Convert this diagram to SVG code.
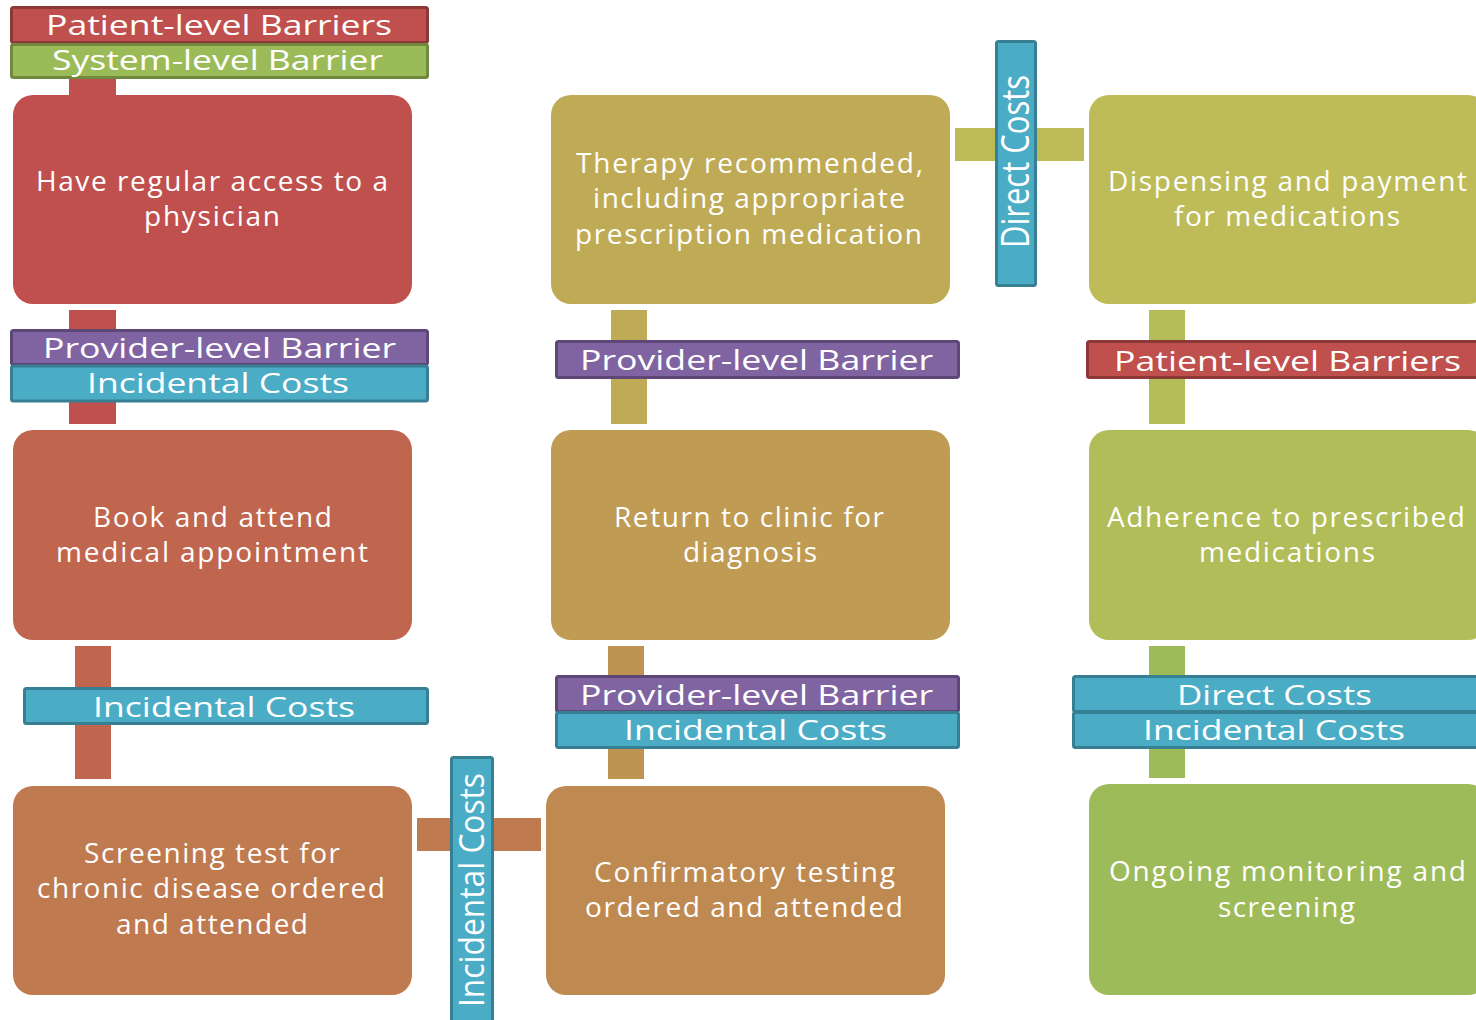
<svg xmlns="http://www.w3.org/2000/svg" width="1476" height="1020" viewBox="0 0 1476 1020">
  <style>
    .node-text { font-family: "Open Sans", "Noto Sans", "Liberation Sans", sans-serif; font-size: 28px; fill: #ffffff; text-anchor: middle; }
    .lbl-text { font-family: "Open Sans", "Noto Sans", "Liberation Sans", sans-serif; font-size: 28px; fill: #ffffff; text-anchor: middle; }
    .patient { fill: #C0504D; stroke: #8C3836; stroke-width: 3; }
    .system { fill: #9BBB59; stroke: #71893F; stroke-width: 3; }
    .provider { fill: #8064A2; stroke: #5C4776; stroke-width: 3; }
    .cost { fill: #4BACC6; stroke: #377F92; stroke-width: 3; }
  </style>

  <rect width="1476" height="1020" fill="#ffffff"/>

  <!-- connecting bars between steps -->
  <g id="connectors">
    <rect x="69" y="60" width="47" height="36" fill="#C0504D"/>
    <rect x="69" y="310" width="47" height="114" fill="#C0504D"/>
    <rect x="75" y="646" width="36" height="133" fill="#C0654E"/>
    <rect x="417" y="818" width="124" height="33" fill="#BF7A50"/>
    <rect x="608" y="646" width="36" height="133" fill="#BF9352"/>
    <rect x="611" y="310" width="36" height="114" fill="#BFAA56"/>
    <rect x="955" y="128" width="129" height="33" fill="#BDBA58"/>
    <rect x="1149" y="310" width="36" height="114" fill="#B5BD58"/>
    <rect x="1149" y="646" width="36" height="132" fill="#9EBB59"/>
  </g>

  <!-- column 1 -->
  <g id="node-access">
    <rect x="13" y="95" width="399" height="209" rx="20" fill="#C0504D"/>
    <text class="node-text" x="212" y="191" textLength="352" lengthAdjust="spacing">Have regular access to a</text>
    <text class="node-text" x="212" y="226" textLength="136" lengthAdjust="spacing">physician</text>
  </g>
  <g id="node-appointment">
    <rect x="13" y="430" width="399" height="210" rx="20" fill="#C0654E"/>
    <text class="node-text" x="212.5" y="527" textLength="239" lengthAdjust="spacing">Book and attend</text>
    <text class="node-text" x="212" y="562" textLength="312" lengthAdjust="spacing">medical appointment</text>
  </g>
  <g id="node-screening">
    <rect x="13" y="786" width="399" height="209" rx="20" fill="#BF7A50"/>
    <text class="node-text" x="212" y="863" textLength="256" lengthAdjust="spacing">Screening test for</text>
    <text class="node-text" x="211" y="898" textLength="348" lengthAdjust="spacing">chronic disease ordered</text>
    <text class="node-text" x="212" y="934" textLength="192" lengthAdjust="spacing">and attended</text>
  </g>

  <!-- column 2 -->
  <g id="node-therapy">
    <rect x="551" y="95" width="399" height="209" rx="20" fill="#BFAA56"/>
    <text class="node-text" x="749.5" y="173" textLength="347" lengthAdjust="spacing">Therapy recommended,</text>
    <text class="node-text" x="749" y="208" textLength="312" lengthAdjust="spacing">including appropriate</text>
    <text class="node-text" x="748.5" y="244" textLength="347" lengthAdjust="spacing">prescription medication</text>
  </g>
  <g id="node-return">
    <rect x="551" y="430" width="399" height="210" rx="20" fill="#BF9B53"/>
    <text class="node-text" x="749" y="527" textLength="270" lengthAdjust="spacing">Return to clinic for</text>
    <text class="node-text" x="750" y="562" textLength="134" lengthAdjust="spacing">diagnosis</text>
  </g>
  <g id="node-confirmatory">
    <rect x="546" y="786" width="399" height="209" rx="20" fill="#BF8A51"/>
    <text class="node-text" x="744.5" y="882" textLength="301" lengthAdjust="spacing">Confirmatory testing</text>
    <text class="node-text" x="744" y="917" textLength="318" lengthAdjust="spacing">ordered and attended</text>
  </g>

  <!-- column 3 -->
  <g id="node-dispensing">
    <rect x="1089" y="95" width="399" height="209" rx="20" fill="#BDBC58"/>
    <text class="node-text" x="1287.5" y="191" textLength="359" lengthAdjust="spacing">Dispensing and payment</text>
    <text class="node-text" x="1287" y="226" textLength="226" lengthAdjust="spacing">for medications</text>
  </g>
  <g id="node-adherence">
    <rect x="1089" y="430" width="399" height="210" rx="20" fill="#B0BD58"/>
    <text class="node-text" x="1286" y="527" textLength="358" lengthAdjust="spacing">Adherence to prescribed</text>
    <text class="node-text" x="1287" y="562" textLength="176" lengthAdjust="spacing">medications</text>
  </g>
  <g id="node-monitoring">
    <rect x="1089" y="784" width="399" height="211" rx="20" fill="#9EBB59"/>
    <text class="node-text" x="1287.5" y="881" textLength="357" lengthAdjust="spacing">Ongoing monitoring and</text>
    <text class="node-text" x="1286.5" y="917" textLength="137" lengthAdjust="spacing">screening</text>
  </g>

  <!-- barrier and cost tags -->
  <g id="tag-top">
    <rect class="patient" x="11.5" y="7.5" width="416" height="35" rx="2"/>
    <text class="lbl-text" x="219" y="35" textLength="346" lengthAdjust="spacingAndGlyphs">Patient-level Barriers</text>
    <rect class="system" x="11.5" y="44.5" width="416" height="33" rx="2"/>
    <text class="lbl-text" x="217.5" y="70" textLength="331" lengthAdjust="spacingAndGlyphs">System-level Barrier</text>
  </g>
  <g id="tag-c1-upper">
    <rect class="provider" x="11.5" y="330.5" width="416" height="34" rx="2"/>
    <text class="lbl-text" x="219.5" y="358" textLength="353" lengthAdjust="spacingAndGlyphs">Provider-level Barrier</text>
    <rect class="cost" x="11.5" y="366" width="416" height="35" rx="2"/>
    <text class="lbl-text" x="218" y="393" textLength="262" lengthAdjust="spacingAndGlyphs">Incidental Costs</text>
  </g>
  <g id="tag-c1-lower">
    <rect class="cost" x="24.5" y="688.5" width="403" height="35" rx="2"/>
    <text class="lbl-text" x="224" y="717" textLength="262" lengthAdjust="spacingAndGlyphs">Incidental Costs</text>
  </g>
  <g id="tag-c2-upper">
    <rect class="provider" x="556.5" y="341.5" width="402" height="36" rx="2"/>
    <text class="lbl-text" x="756.5" y="370" textLength="353" lengthAdjust="spacingAndGlyphs">Provider-level Barrier</text>
  </g>
  <g id="tag-c2-lower">
    <rect class="provider" x="556.5" y="676.5" width="402" height="35" rx="2"/>
    <text class="lbl-text" x="756.5" y="705" textLength="353" lengthAdjust="spacingAndGlyphs">Provider-level Barrier</text>
    <rect class="cost" x="556.5" y="712.5" width="402" height="35" rx="2"/>
    <text class="lbl-text" x="755.5" y="740" textLength="263" lengthAdjust="spacingAndGlyphs">Incidental Costs</text>
  </g>
  <g id="tag-c3-upper">
    <rect class="patient" x="1087.5" y="341.5" width="400" height="36" rx="2"/>
    <text class="lbl-text" x="1287.5" y="371" textLength="347" lengthAdjust="spacingAndGlyphs">Patient-level Barriers</text>
  </g>
  <g id="tag-c3-lower">
    <rect class="cost" x="1073.5" y="676.5" width="410" height="35" rx="2"/>
    <text class="lbl-text" x="1274.5" y="705" textLength="195" lengthAdjust="spacingAndGlyphs">Direct Costs</text>
    <rect class="cost" x="1073.5" y="712.5" width="410" height="35" rx="2"/>
    <text class="lbl-text" x="1274" y="740" textLength="262" lengthAdjust="spacingAndGlyphs">Incidental Costs</text>
  </g>
  <g id="tag-r1-direct">
    <rect class="cost" x="996.5" y="41.5" width="39" height="244" rx="2"/>
    <text class="lbl-text" transform="translate(1029,161.5) rotate(-90)" style="font-size:38px" textLength="173" lengthAdjust="spacingAndGlyphs">Direct Costs</text>
  </g>
  <g id="tag-r3-incidental">
    <rect class="cost" x="451.5" y="757.5" width="41" height="280" rx="2"/>
    <text class="lbl-text" transform="translate(484,890) rotate(-90)" style="font-size:35px" textLength="234" lengthAdjust="spacingAndGlyphs">Incidental Costs</text>
  </g>
</svg>
